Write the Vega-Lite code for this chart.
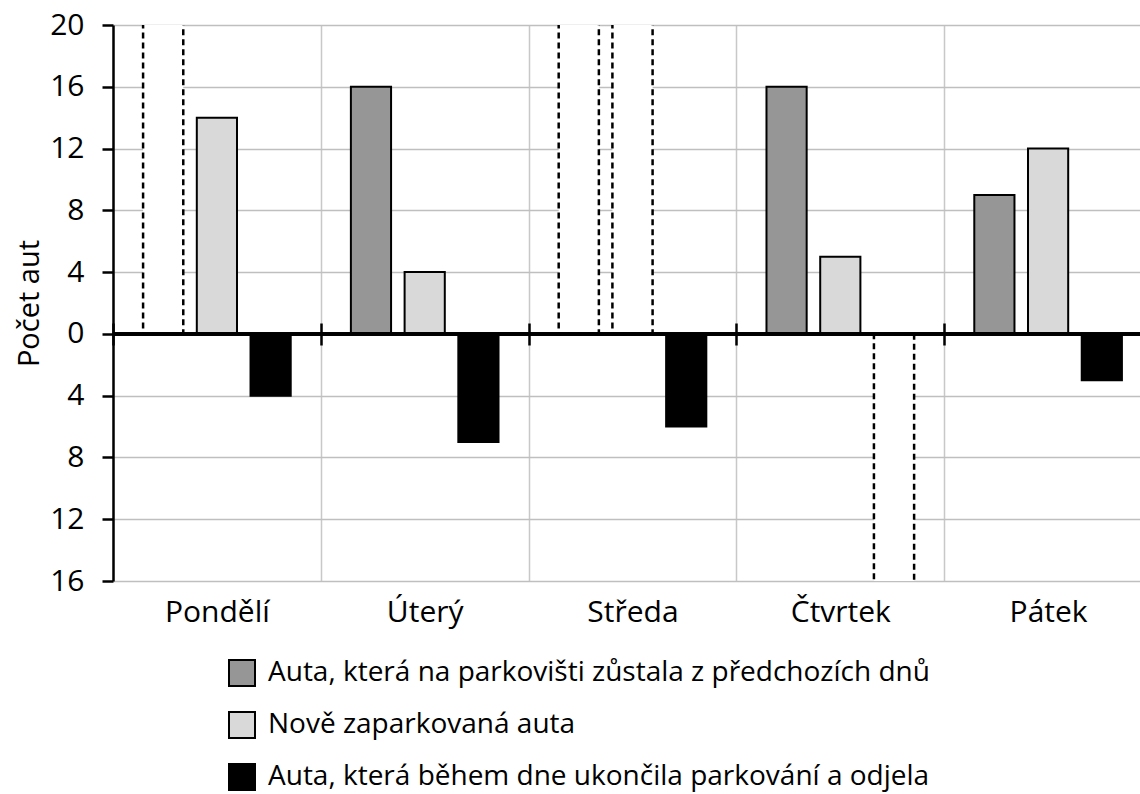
{
  "$schema": "https://vega.github.io/schema/vega-lite/v6.json",
  "autosize": "none",
  "width": 1027,
  "height": 556,
  "padding": {"left": 113, "top": 25, "right": 0, "bottom": 213},
  "background": "white",
  "config": {"font": "Open Sans", "view": {"stroke": null}},
  "data": {
    "values": [
      {"day": "Pondělí", "series": "Auta, která na parkovišti zůstala z předchozích dnů", "value": null},
      {"day": "Pondělí", "series": "Nově zaparkovaná auta", "value": 14},
      {"day": "Pondělí", "series": "Auta, která během dne ukončila parkování a odjela", "value": -4},
      {"day": "Úterý", "series": "Auta, která na parkovišti zůstala z předchozích dnů", "value": 16},
      {"day": "Úterý", "series": "Nově zaparkovaná auta", "value": 4},
      {"day": "Úterý", "series": "Auta, která během dne ukončila parkování a odjela", "value": -7},
      {"day": "Středa", "series": "Auta, která na parkovišti zůstala z předchozích dnů", "value": null},
      {"day": "Středa", "series": "Nově zaparkovaná auta", "value": null},
      {"day": "Středa", "series": "Auta, která během dne ukončila parkování a odjela", "value": -6},
      {"day": "Čtvrtek", "series": "Auta, která na parkovišti zůstala z předchozích dnů", "value": 16},
      {"day": "Čtvrtek", "series": "Nově zaparkovaná auta", "value": 5},
      {"day": "Čtvrtek", "series": "Auta, která během dne ukončila parkování a odjela", "value": null},
      {"day": "Pátek", "series": "Auta, která na parkovišti zůstala z předchozích dnů", "value": 9},
      {"day": "Pátek", "series": "Nově zaparkovaná auta", "value": 12},
      {"day": "Pátek", "series": "Auta, která během dne ukončila parkování a odjela", "value": -3}
    ]
  },
  "resolve": {"axis": {"x": "independent"}},
  "layer": [
    {
      "transform": [{"filter": "datum.value == null && datum.series != 'Auta, která během dne ukončila parkování a odjela'"}],
      "mark": {"type": "bar", "fill": "white", "stroke": "black", "strokeDash": [6, 4], "strokeWidth": 2.5, "clip": true},
      "encoding": {
        "x": {
          "field": "day", "type": "nominal",
          "sort": ["Pondělí", "Úterý", "Středa", "Čtvrtek", "Pátek"],
          "scale": {"domain": ["Pondělí", "Úterý", "Středa", "Čtvrtek", "Pátek"], "range": [0, 1039], "paddingInner": 0, "paddingOuter": 0},
          "axis": {"orient": "top", "offset": -320, "domain": false, "labels": false, "grid": false, "tickBand": "extent", "ticks": true, "tickSize": 22, "tickWidth": 2.5, "tickColor": "black", "title": null}
        },
        "xOffset": {
          "field": "series", "type": "nominal",
          "scale": {"domain": ["Auta, která na parkovišti zůstala z předchozích dnů", "Nově zaparkovaná auta", "Auta, která během dne ukončila parkování a odjela"], "paddingInner": 0.252, "paddingOuter": 0.56}
        },
        "y": {"datum": 21, "type": "quantitative"},
        "y2": {"datum": 0}
      }
    },
    {
      "transform": [{"filter": "datum.value == null && datum.series == 'Auta, která během dne ukončila parkování a odjela'"}],
      "mark": {"type": "bar", "fill": "white", "stroke": "black", "strokeDash": [6, 4], "strokeWidth": 2.5, "clip": true},
      "encoding": {
        "x": {"field": "day", "type": "nominal", "sort": ["Pondělí", "Úterý", "Středa", "Čtvrtek", "Pátek"], "axis": null},
        "xOffset": {"field": "series", "type": "nominal"},
        "y": {"datum": -17, "type": "quantitative"},
        "y2": {"datum": 0}
      }
    },
    {
      "transform": [{"filter": "datum.value != null"}],
      "mark": {"type": "bar", "stroke": "black", "strokeWidth": 2, "opacity": 1},
      "encoding": {
        "x": {
          "field": "day", "type": "nominal", "sort": ["Pondělí", "Úterý", "Středa", "Čtvrtek", "Pátek"],
          "axis": {"orient": "bottom", "domain": false, "ticks": false, "grid": true, "tickBand": "extent", "gridColor": "#c8c8c8", "gridWidth": 1.5, "labelFontSize": 30, "labelPadding": 16, "labelColor": "black", "labelAngle": 0, "title": null}
        },
        "xOffset": {"field": "series", "type": "nominal"},
        "y": {
          "field": "value", "type": "quantitative",
          "scale": {"domain": [-16, 20], "nice": false, "zero": false},
          "axis": {
            "values": [-16, -14, -12, -10, -8, -6, -4, -2, 0, 2, 4, 6, 8, 10, 12, 14, 16, 18, 20],
            "labelExpr": "datum.value % 4 === 0 ? '' + abs(datum.value) : ''",
            "grid": true,
            "gridColor": {"condition": {"test": "datum.value % 4 === 0", "value": "#bfbfbf"}, "value": "#e2e2e2"},
            "gridWidth": 1.5,
            "tickOpacity": {"condition": {"test": "datum.value % 4 !== 0", "value": 0}, "value": 1},
            "tickColor": "black", "tickSize": 11, "tickWidth": 2.5,
            "domainColor": "black", "domainWidth": 2.5,
            "labelFontSize": 30, "labelPadding": 18, "labelColor": "black",
            "title": "Počet aut", "titleFontSize": 29, "titleFontWeight": "normal", "titleColor": "black", "titlePadding": 5
          }
        },
        "color": {
          "field": "series", "type": "nominal",
          "scale": {"domain": ["Auta, která na parkovišti zůstala z předchozích dnů", "Nově zaparkovaná auta", "Auta, která během dne ukončila parkování a odjela"], "range": ["#969696", "#d9d9d9", "#000000"]},
          "legend": {"orient": "none", "legendX": 115, "legendY": 634, "direction": "vertical", "title": null, "symbolType": "square", "symbolSize": 676, "symbolStrokeColor": "black", "symbolStrokeWidth": 2, "symbolOpacity": 1, "labelFontSize": 28, "labelOffset": 12, "rowPadding": 18, "labelLimit": 0, "labelColor": "black"}
        }
      }
    },
    {
      "mark": {"type": "rule", "color": "black", "strokeWidth": 2.5},
      "encoding": {"y": {"datum": 0, "type": "quantitative"}}
    }
  ]
}
